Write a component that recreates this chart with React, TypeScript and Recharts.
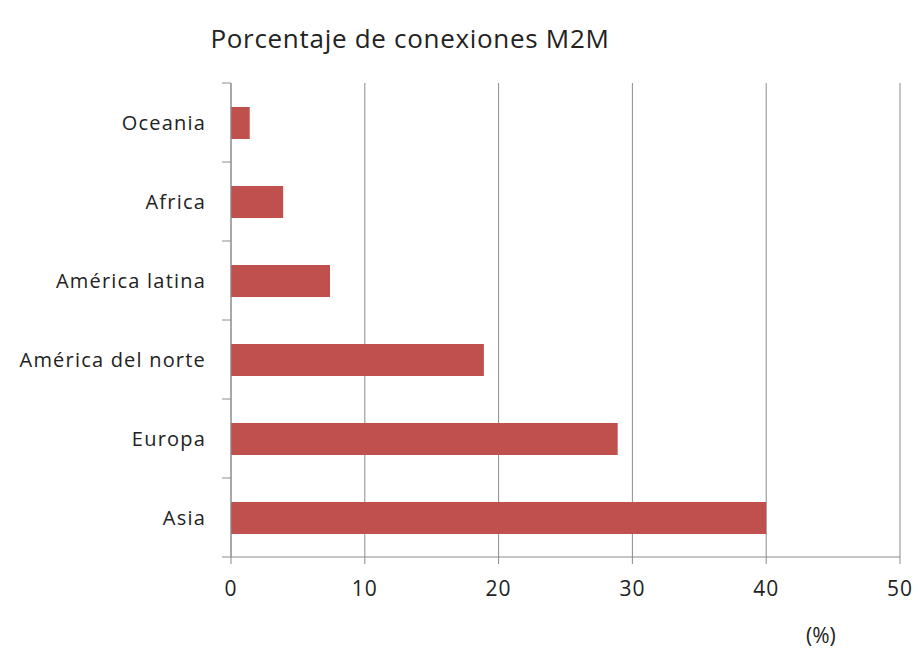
import React from 'react';
import { BarChart, Bar, XAxis, YAxis, CartesianGrid } from 'recharts';

const regions = ['Oceania', 'Africa', 'América latina', 'América del norte', 'Europa', 'Asia'];
const shares = [1.4, 3.9, 7.4, 18.9, 28.9, 40];
const xTicks = [0, 10, 20, 30, 40, 50];

const data = regions.map((region, i) => ({ region, share: shares[i] }));

const WIDTH = 920;
const HEIGHT = 651;
const MARGIN = { top: 83, right: 20, bottom: 0, left: 0 };
const Y_WIDTH = 231;
const X_HEIGHT = 94;
const FONT = '"Open Sans", "Noto Sans", sans-serif';
const TEXT = '#222';
const AXIS = '#8c8c8c';

const plotHeight = HEIGHT - MARGIN.top - MARGIN.bottom - X_HEIGHT;
const band = plotHeight / regions.length;

// category axis: label at band centre, tick marks at band edges (Excel style)
const RegionTick = (props: any) => {
  const { x, y, payload, index } = props;
  const axisX = x + 8;
  return (
    <g>
      <line x1={axisX - 9} x2={axisX} y1={y - band / 2} y2={y - band / 2} stroke={AXIS} />
      {index === regions.length - 1 && (
        <line x1={axisX - 9} x2={axisX} y1={y + band / 2} y2={y + band / 2} stroke={AXIS} />
      )}
      <text
        x={x - 17}
        y={y}
        dy={7}
        textAnchor="end"
        fontSize={20}
        letterSpacing={1.2}
        fill={TEXT}
        fontFamily={FONT}
      >
        {payload.value}
      </text>
    </g>
  );
};

export default function App() {
  return (
    <div style={{ position: 'absolute', left: 0, top: 0, width: WIDTH, height: HEIGHT, background: '#fff' }}>
      <div
        style={{
          position: 'absolute',
          left: 0,
          width: 820,
          top: 20,
          textAlign: 'center',
          fontFamily: FONT,
          fontSize: 26,
          letterSpacing: 0.7,
          color: TEXT,
        }}
      >
        Porcentaje de conexiones M2M
      </div>
      <BarChart
        width={WIDTH}
        height={HEIGHT}
        data={data}
        layout="vertical"
        margin={MARGIN}
        barSize={32}
      >
        <CartesianGrid horizontal={false} stroke={AXIS} strokeWidth={1} />
        <XAxis
          type="number"
          domain={[0, 50]}
          ticks={xTicks}
          height={X_HEIGHT}
          stroke={AXIS}
          tickSize={7}
          tickMargin={17}
          tick={{ fontSize: 21, fill: TEXT, fontFamily: FONT, letterSpacing: 1 }}
        />
        <YAxis
          type="category"
          dataKey="region"
          width={Y_WIDTH}
          stroke={AXIS}
          tickLine={false}
          tick={<RegionTick />}
          interval={0}
        />
        <Bar dataKey="share" fill="#c0504d" isAnimationActive={false} />
      </BarChart>
      <div
        style={{
          position: 'absolute',
          left: 806,
          top: 621,
          fontFamily: FONT,
          fontSize: 21,
          color: TEXT,
        }}
      >
        (%)
      </div>
    </div>
  );
}
